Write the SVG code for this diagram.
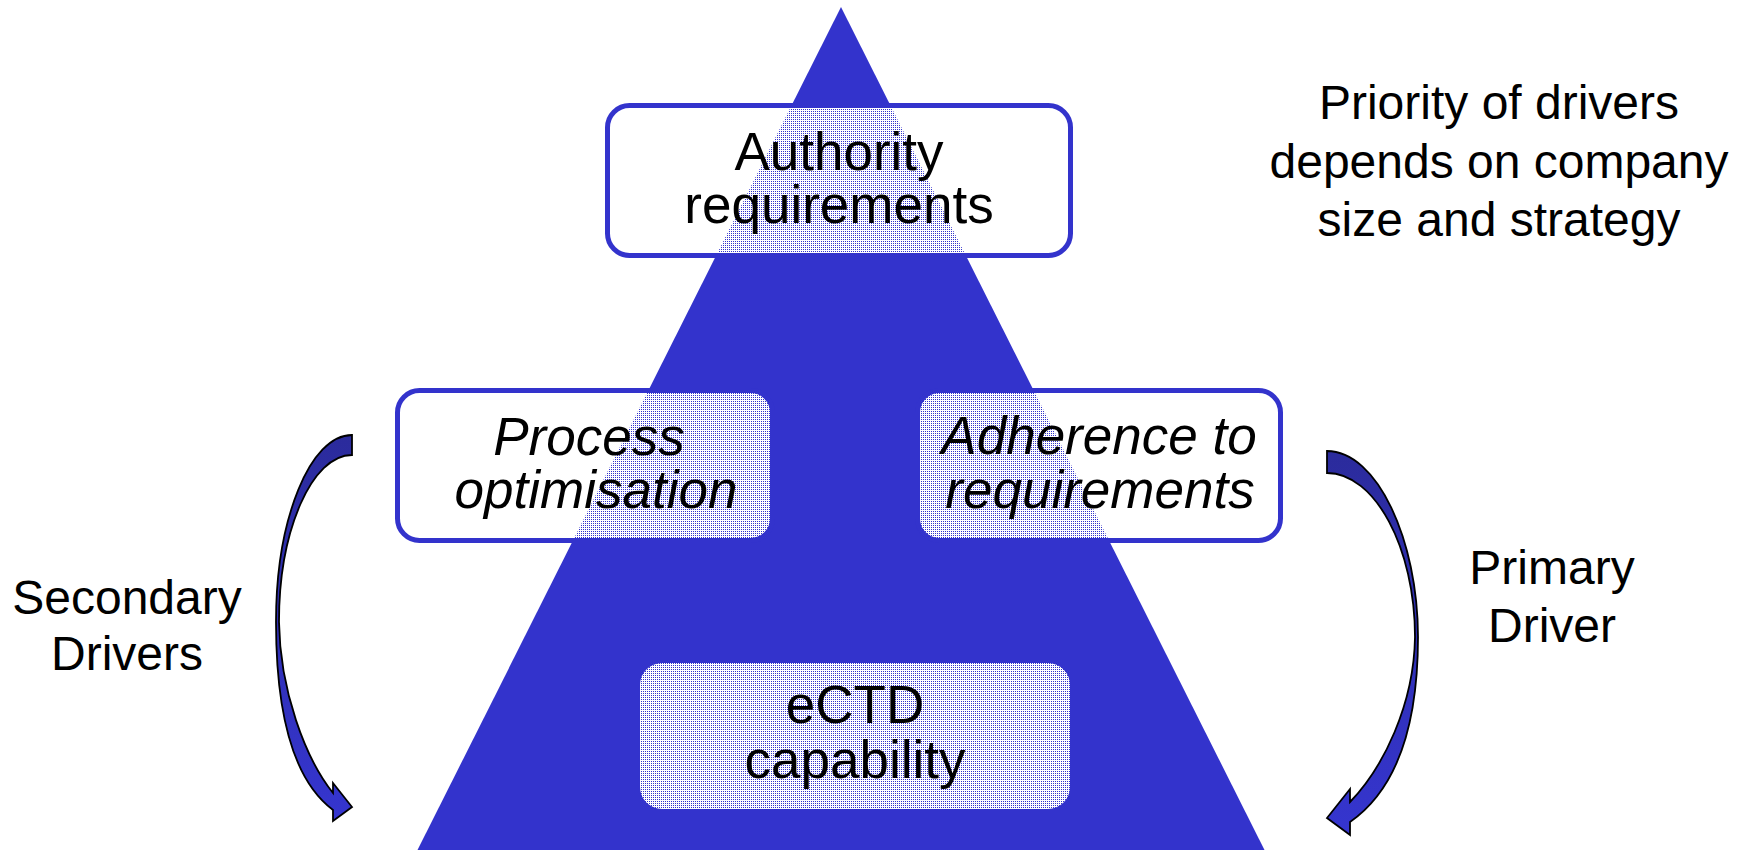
<svg xmlns="http://www.w3.org/2000/svg" width="1744" height="850" viewBox="0 0 1744 850">
  <defs>
    <!-- light dither: 3 of 4 pixels white, the rest lets the layer beneath show through -->
    <pattern id="dither" patternUnits="userSpaceOnUse" width="2" height="2">
      <rect x="0" y="0" width="2" height="1" fill="#ffffff"/>
      <rect x="0" y="1" width="1" height="1" fill="#ffffff"/>
    </pattern>
    <linearGradient id="arrowFill" x1="0" y1="0" x2="0" y2="1">
      <stop offset="0" stop-color="#2b2b9c"/>
      <stop offset="1" stop-color="#3535cf"/>
    </linearGradient>
    <style>
      .txt { font-family: "Liberation Sans", Arial, sans-serif; fill: #000000; text-anchor: middle; }
      .big { font-size: 53px; }
      .side { font-size: 48px; }
      .it { font-style: italic; }
      .box { fill: url(#dither); stroke: #3333cc; stroke-width: 5; }
      .box-plain { fill: url(#dither); stroke: none; }
      .arrow { fill: url(#arrowFill); stroke: #000000; stroke-width: 1.8; stroke-linejoin: miter; }
    </style>
  </defs>

  <rect x="0" y="0" width="1744" height="850" fill="#ffffff"/>

  <!-- pyramid -->
  <polygon id="pyramid" points="841,7 1265,851 417,851" fill="#3333cc"/>

  <!-- curved driver arrows -->
  <g id="connectors">
    <path id="arrow-secondary" class="arrow"
          d="M352,435 C310,435 276,519 276,622 C276,715 293,780 333,810 L333,821 L352,807 L333,783 L333,793 C305,758 280,690 279,622 C279,530 312,455 352,455 Z"/>
    <path id="arrow-primary" class="arrow"
          d="M1327,451 C1377,451 1418,540 1418,637 C1418,728 1396,790 1350,822 L1350,835 L1327,818 L1350,789 L1350,802 C1383,768 1414,705 1415,637 C1415,548 1375,473 1327,473 Z"/>
  </g>

  <g id="node-authority">
    <rect class="box" x="607.5" y="105.5" width="463" height="150" rx="22"/>
    <text class="txt big" x="839" y="170">Authority</text>
    <text class="txt big" x="839" y="223">requirements</text>
  </g>

  <g id="node-process">
    <rect class="box" x="397.5" y="390.5" width="375" height="150" rx="22"/>
    <text class="txt big it" x="589" y="455">Process</text>
    <text class="txt big it" x="596" y="508">optimisation</text>
  </g>

  <g id="node-adherence">
    <rect class="box" x="917.5" y="390.5" width="363" height="150" rx="22"/>
    <text class="txt big it" x="1099" y="454">Adherence to</text>
    <text class="txt big it" x="1100" y="508">requirements</text>
  </g>

  <g id="node-ectd">
    <rect class="box-plain" x="640" y="663" width="430" height="146" rx="22"/>
    <text class="txt big" x="855" y="723">eCTD</text>
    <text class="txt big" x="855" y="778">capability</text>
  </g>

  <g id="label-priority">
    <text class="txt side" x="1499" y="119">Priority of drivers</text>
    <text class="txt side" x="1499" y="178">depends on company</text>
    <text class="txt side" x="1499" y="236">size and strategy</text>
  </g>

  <g id="label-secondary">
    <text class="txt side" x="127" y="614">Secondary</text>
    <text class="txt side" x="127" y="670">Drivers</text>
  </g>

  <g id="label-primary">
    <text class="txt side" x="1552" y="584">Primary</text>
    <text class="txt side" x="1552" y="642">Driver</text>
  </g>
</svg>
